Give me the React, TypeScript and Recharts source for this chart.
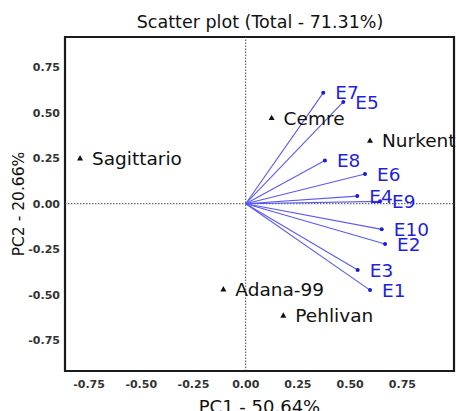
import React from 'react';
import { ScatterChart, Scatter, XAxis, YAxis, ReferenceLine, ReferenceArea, LabelList } from 'recharts';

const genotypeNames = ['Sagittario', 'Cemre', 'Nurkent', 'Adana-99', 'Pehlivan'];
const genotypeX = [-0.793, 0.124, 0.595, -0.107, 0.18];
const genotypeY = [0.25, 0.472, 0.347, -0.47, -0.615];

const traitNames = ['E7', 'E5', 'E8', 'E6', 'E4', 'E9', 'E10', 'E2', 'E3', 'E1'];
const traitX = [0.371, 0.467, 0.379, 0.571, 0.534, 0.643, 0.651, 0.667, 0.536, 0.595];
const traitY = [0.61, 0.56, 0.238, 0.163, 0.042, 0.013, -0.141, -0.222, -0.365, -0.475];

const tickValues = [-0.75, -0.5, -0.25, 0, 0.25, 0.5, 0.75];
const xDomain = [-0.865, 0.997];
const yDomain = [-0.92, 0.917];

const genotypes = genotypeNames.map((n, i) => ({ name: n, x: genotypeX[i], y: genotypeY[i] }));
const traits = traitNames.map((n, i) => ({ name: n, x: traitX[i], y: traitY[i] }));

const FONT = 'DejaVu Sans';

const Triangle = (props: any) => {
  const { cx, cy } = props;
  return <path d={`M${cx},${cy - 3.2} L${cx + 3},${cy + 2.2} L${cx - 3},${cy + 2.2} Z`} fill="#111" />;
};

const Dot = (props: any) => {
  const { cx, cy } = props;
  return <circle cx={cx} cy={cy} r={2} fill="#1a1ad8" />;
};

const makeLabel = (color: string, size: number) => (props: any) => {
  const { x, y, width, height, value } = props;
  const cx = x + (width || 0) / 2;
  const cy = y + (height || 0) / 2;
  return (
    <text x={cx + 12} y={cy} dy="0.36em" textAnchor="start" fill={color} fontFamily={FONT} fontSize={size}>
      {value}
    </text>
  );
};

export default function App() {
  return (
    <div style={{ position: 'absolute', left: 0, top: 0, width: 456, height: 411, background: '#fff' }}>
      <ScatterChart width={456} height={411} margin={{ top: 37, right: 2, bottom: 0, left: 20 }}>
        <text x={260} y={22} dy="0.36em" textAnchor="middle" fontFamily={FONT} fontSize={17.5} fill="#111">
          Scatter plot (Total - 71.31%)
        </text>
        <XAxis
          type="number"
          dataKey="x"
          domain={xDomain}
          ticks={tickValues}
          allowDataOverflow
          tickFormatter={(v: number) => v.toFixed(2)}
          tickLine={false}
          axisLine={false}
          tickSize={0}
          tickMargin={9}
          height={40}
          tick={{ fontFamily: FONT, fontSize: 11, fontWeight: 'bold', fill: '#333' }}
          label={{ value: 'PC1 - 50.64%', position: 'insideBottom', offset: -2, fontFamily: FONT, fontSize: 18, fill: '#111' }}
        />
        <YAxis
          type="number"
          dataKey="y"
          domain={yDomain}
          ticks={tickValues}
          allowDataOverflow
          tickFormatter={(v: number) => v.toFixed(2)}
          tickLine={false}
          axisLine={false}
          tickSize={0}
          tickMargin={5}
          width={45}
          tick={{ fontFamily: FONT, fontSize: 11, fontWeight: 'bold', fill: '#333' }}
          label={{ value: 'PC2 - 20.66%', angle: -90, position: 'insideLeft', offset: -2, style: { textAnchor: 'middle' }, fontFamily: FONT, fontSize: 15.5, fill: '#111' }}
        />
        <ReferenceLine x={0} stroke="#444" strokeDasharray="1.5 1.5" strokeWidth={1} />
        <ReferenceLine y={0} stroke="#444" strokeDasharray="1.5 1.5" strokeWidth={1} />
        {traits.map((t) => (
          <ReferenceLine
            key={t.name}
            segment={[{ x: 0, y: 0 }, { x: t.x, y: t.y }]}
            stroke="#5a5af0"
            strokeWidth={1.1}
          />
        ))}
        <ReferenceArea
          x1={xDomain[0]}
          x2={xDomain[1]}
          y1={yDomain[0]}
          y2={yDomain[1]}
          fill="none"
          fillOpacity={0}
          stroke="#1a1a1a"
          strokeWidth={2.2}
        />
        <Scatter data={genotypes} shape={Triangle} isAnimationActive={false}>
          <LabelList dataKey="name" content={makeLabel('#111', 18.5)} />
        </Scatter>
        <Scatter data={traits} shape={Dot} isAnimationActive={false}>
          <LabelList dataKey="name" content={makeLabel('#1f1fe0', 18.5)} />
        </Scatter>
      </ScatterChart>
    </div>
  );
}
